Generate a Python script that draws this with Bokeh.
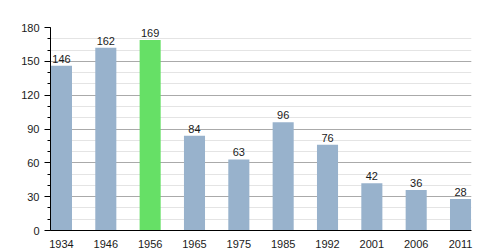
from bokeh.plotting import figure
from bokeh.models import FixedTicker, SingleIntervalTicker, Range1d, ColumnDataSource
from bokeh.embed import file_html
from bokeh.resources import INLINE
from bokeh.core.properties import value

years = ["1934", "1946", "1956", "1965", "1975", "1985", "1992", "2001", "2006", "2011"]
population = [146, 162, 169, 84, 63, 96, 76, 42, 36, 28]
highlight_year = "1956"

BAR = "#98b2cc"
HIGHLIGHT = "#66e066"
FONT = "Liberation Sans"

idx = list(range(len(years)))
colors = [HIGHLIGHT if y == highlight_year else BAR for y in years]
labels = [str(v) for v in population]

src = ColumnDataSource(dict(x=idx, top=population, color=colors, label=labels))

w = 0.475
p = figure(width=500, height=250, output_backend="svg", toolbar_location=None,
           x_range=Range1d(-w / 2 - 0.01, len(years) - 1 + w / 2 + 0.01),
           y_range=Range1d(0, 180),
           min_border_left=50, min_border_right=29, min_border_top=27, min_border_bottom=18)
p.outline_line_color = None
p.background_fill_color = "white"

p.vbar(x="x", top="top", width=w, color="color", source=src, line_color=None)
p.text(x="x", y="top", text="label", source=src, text_align="center", text_baseline="bottom",
       y_offset=-3, text_font=value(FONT), text_font_size="11px", text_color="#1a1a1a")

# x axis
p.xaxis.ticker = FixedTicker(ticks=idx)
p.xaxis.major_label_overrides = {i: y for i, y in zip(idx, years)}
p.xaxis.major_tick_line_color = None
p.xaxis.minor_tick_line_color = None
p.xaxis.axis_line_color = "black"
p.xaxis.axis_line_width = 1
p.xaxis.major_label_text_font = FONT
p.xaxis.major_label_text_font_size = "11px"
p.xaxis.major_label_text_color = "#1a1a1a"
p.xaxis.major_label_standoff = 3
p.xgrid.grid_line_color = None

# y axis
yt = SingleIntervalTicker(interval=30, num_minor_ticks=3)
p.yaxis.ticker = yt
p.yaxis.axis_line_color = "black"
p.yaxis.major_tick_in = 0
p.yaxis.major_tick_out = 6
p.yaxis.minor_tick_in = 0
p.yaxis.minor_tick_out = 3
p.yaxis.major_tick_line_color = "black"
p.yaxis.minor_tick_line_color = "black"
p.yaxis.major_label_text_font = FONT
p.yaxis.major_label_text_font_size = "11px"
p.yaxis.major_label_text_color = "#1a1a1a"
p.yaxis.major_label_standoff = 5
p.ygrid.ticker = yt
p.ygrid.grid_line_color = "#aaaaaa"
p.ygrid.minor_grid_line_color = "#e4e4e4"

open("out.html", "w").write(file_html(p, INLINE))
